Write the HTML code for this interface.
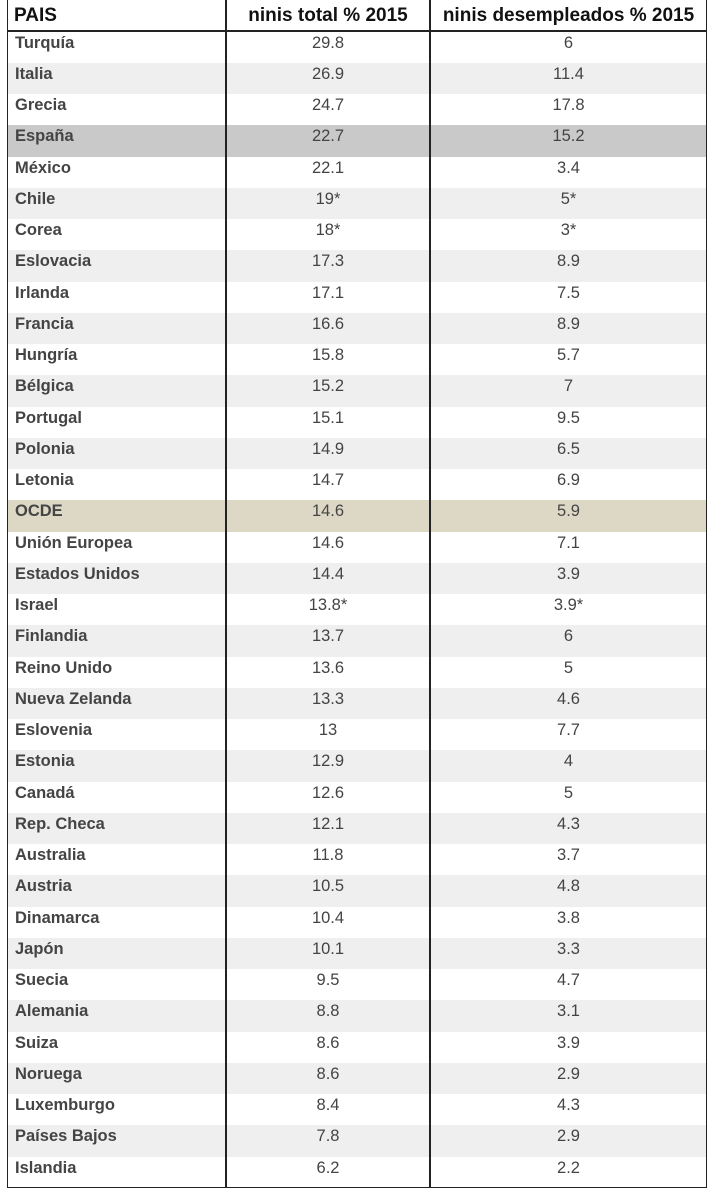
<!DOCTYPE html>
<html><head><meta charset="utf-8"><style>
body{margin:0;width:709px;height:1193px;background:#fff;position:relative;overflow:hidden}
.t{position:absolute;left:7px;top:0;width:700px;height:1188px;border-left:1.5px solid #222;border-right:1.5px solid #222;border-bottom:1.5px solid #222;box-sizing:border-box}
.v{position:absolute;top:0;width:1.5px;height:1188px;background:#222}
.hd{position:absolute;top:0;height:31px;font-family:"Liberation Sans",sans-serif;font-weight:bold;font-size:19px;color:#111;line-height:31px}
.hl{position:absolute;left:7px;top:30px;width:700px;height:1.5px;background:#222}
.r{position:absolute;left:8px;width:698px;height:31.25px;font-family:"Liberation Sans",sans-serif;font-size:16.5px;line-height:22px}
.r span{position:absolute;top:0}
.n{left:7px;font-weight:bold;color:#444}
.a{left:218px;width:204px;text-align:center;color:#444}
.b{left:422px;width:277px;text-align:center;color:#444}
</style></head><body>
<div class="t"></div>
<div class="v" style="left:225px"></div>
<div class="v" style="left:429px"></div>
<div class="hd" style="left:14px">PAIS</div>
<div class="hd" style="left:226px;width:204px;text-align:center">ninis total % 2015</div>
<div class="hd" style="left:430px;width:277px;text-align:center">ninis desempleados % 2015</div>
<div class="hl"></div>
<div id="rows"></div>
<script>
var d=[["Turquía","29.8","6"],["Italia","26.9","11.4"],["Grecia","24.7","17.8"],["España","22.7","15.2"],["México","22.1","3.4"],["Chile","19*","5*"],["Corea","18*","3*"],["Eslovacia","17.3","8.9"],["Irlanda","17.1","7.5"],["Francia","16.6","8.9"],["Hungría","15.8","5.7"],["Bélgica","15.2","7"],["Portugal","15.1","9.5"],["Polonia","14.9","6.5"],["Letonia","14.7","6.9"],["OCDE","14.6","5.9"],["Unión Europea","14.6","7.1"],["Estados Unidos","14.4","3.9"],["Israel","13.8*","3.9*"],["Finlandia","13.7","6"],["Reino Unido","13.6","5"],["Nueva Zelanda","13.3","4.6"],["Eslovenia","13","7.7"],["Estonia","12.9","4"],["Canadá","12.6","5"],["Rep. Checa","12.1","4.3"],["Australia","11.8","3.7"],["Austria","10.5","4.8"],["Dinamarca","10.4","3.8"],["Japón","10.1","3.3"],["Suecia","9.5","4.7"],["Alemania","8.8","3.1"],["Suiza","8.6","3.9"],["Noruega","8.6","2.9"],["Luxemburgo","8.4","4.3"],["Países Bajos","7.8","2.9"],["Islandia","6.2","2.2"]];
var h="";
d.forEach(function(r,i){var bg=i%2?"#efefef":"transparent";if(i==3)bg="#c9c9c9";if(i==15)bg="#ddd8c5";
h+='<div class="r" style="top:'+(31.5+i*31.25)+'px;background:'+bg+'"><span class="n">'+r[0]+'</span><span class="a">'+r[1]+'</span><span class="b">'+r[2]+'</span></div>';});
document.getElementById("rows").innerHTML=h;
</script>
<div class="v" style="left:225px;z-index:2"></div>
<div class="v" style="left:429px;z-index:2"></div>
</body></html>
